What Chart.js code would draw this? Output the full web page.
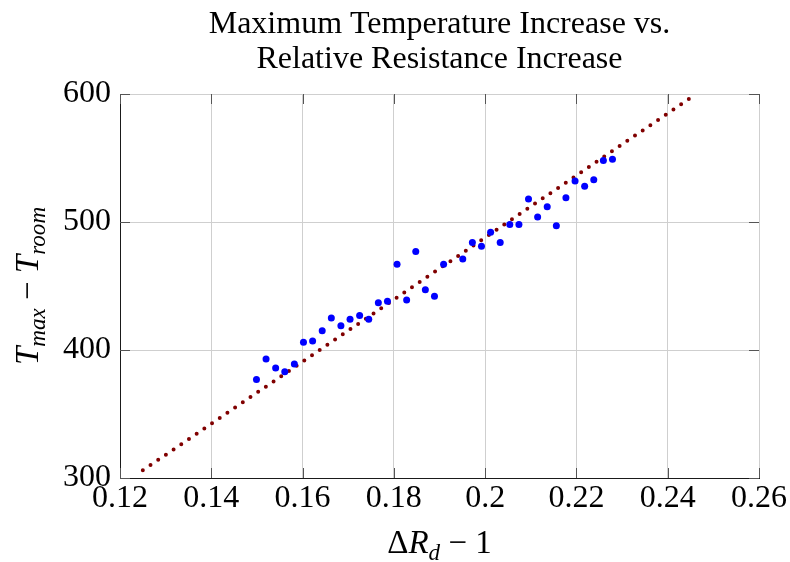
<!DOCTYPE html>
<html>
<head>
<meta charset="utf-8">
<script src="https://cdn.jsdelivr.net/npm/chart.js@4.4.1/dist/chart.umd.min.js"></script>
<style>
  html, body { margin: 0; padding: 0; background: #ffffff; }
  #wrap { width: 790px; height: 562px; }
</style>
</head>
<body>
<div id="wrap"><canvas id="c" width="790" height="562"></canvas></div>
<script>
// Measured samples: relative resistance increase (ΔR_d − 1) vs. temperature rise
const resistanceRise = [
  0.1499, 0.1520, 0.1541, 0.1561, 0.1582, 0.1602, 0.1622, 0.1643, 0.1663, 0.1684,
  0.1704, 0.1725, 0.1745, 0.1766, 0.1786, 0.1807, 0.1828, 0.1848, 0.1869, 0.1889,
  0.1909, 0.1951, 0.1972, 0.1992, 0.2012, 0.2033, 0.2054, 0.2074, 0.2095, 0.2115,
  0.2136, 0.2156, 0.2177, 0.2197, 0.2218, 0.2238, 0.2259, 0.2279
];
const temperatureRise = [
  377, 393, 386, 383, 389, 406, 407, 415, 425, 419,
  424, 427, 424, 437, 438, 467, 439, 477, 447, 442,
  467, 471, 484, 481, 492, 484, 498, 498, 518, 504,
  512, 497, 519, 532, 528, 533, 548, 549
];

// Linear fit, given by its two end points
const fitX = [0.125, 0.245];
const fitY = [306, 597];

// Axis ticks
const xTickValues = [0.12, 0.14, 0.16, 0.18, 0.20, 0.22, 0.24, 0.26];
const xTickLabels = ['0.12', '0.14', '0.16', '0.18', '0.2', '0.22', '0.24', '0.26'];
const yTickValues = [300, 400, 500, 600];
const yTickLabels = ['300', '400', '500', '600'];

const titleLines = ['Maximum Temperature Increase vs.', 'Relative Resistance Increase'];

const SERIF = '"Liberation Serif", "DejaVu Serif", serif';
const TICK_FONT = 32;
const TITLE_FONT = 32;
const LABEL_FONT = 33;

const points = resistanceRise.map((x, i) => ({ x: x, y: temperatureRise[i] }));
const fitLine = fitX.map((x, i) => ({ x: x, y: fitY[i] }));

// Draws a run of text pieces (normal / subscript, upright / italic) from a start x
function drawRich(ctx, parts, x, y, size) {
  let cx = x;
  for (const p of parts) {
    const s = p.sub ? size * 0.7 : size;
    ctx.font = (p.italic ? 'italic ' : '') + s + 'px ' + SERIF;
    const dy = p.sub ? size * 0.2 : 0;
    ctx.fillText(p.t, cx, y + dy);
    cx += ctx.measureText(p.t).width;
  }
  return cx - x;
}
function measureRich(ctx, parts, size) {
  let w = 0;
  for (const p of parts) {
    const s = p.sub ? size * 0.7 : size;
    ctx.font = (p.italic ? 'italic ' : '') + s + 'px ' + SERIF;
    w += ctx.measureText(p.t).width;
  }
  return w;
}

const yTitleParts = [
  { t: 'T', italic: true }, { t: 'max', italic: true, sub: true },
  { t: ' \u2212 ' }, { t: 'T', italic: true }, { t: 'room', italic: true, sub: true }
];
const xTitleParts = [
  { t: '\u0394' }, { t: 'R', italic: true }, { t: 'd', italic: true, sub: true },
  { t: ' \u2212 1' }
];

const decorations = {
  id: 'decorations',
  beforeDatasetsDraw(chart) {
    // short inward tick marks on all four sides of the frame
    const { ctx, chartArea: a, scales } = chart;
    ctx.save();
    ctx.strokeStyle = '#555555';
    ctx.lineWidth = 1;
    const len = 10;
    ctx.beginPath();
    for (const v of xTickValues) {
      const px = Math.round(scales.x.getPixelForValue(v)) + 0.5;
      ctx.moveTo(px, a.bottom); ctx.lineTo(px, a.bottom - len);
      ctx.moveTo(px, a.top); ctx.lineTo(px, a.top + len);
    }
    for (const v of yTickValues) {
      const py = Math.round(scales.y.getPixelForValue(v)) + 0.5;
      ctx.moveTo(a.left, py); ctx.lineTo(a.left + len, py);
      ctx.moveTo(a.right, py); ctx.lineTo(a.right - len, py);
    }
    ctx.stroke();
    ctx.restore();
  },
  afterDraw(chart) {
    const { ctx, chartArea: a } = chart;
    ctx.save();
    ctx.fillStyle = '#000000';
    ctx.textBaseline = 'alphabetic';
    // title, two centred lines above the plot
    ctx.textAlign = 'center';
    ctx.font = TITLE_FONT + 'px ' + SERIF;
    const cx = (a.left + a.right) / 2;
    ctx.fillText(titleLines[0], cx, 33);
    ctx.fillText(titleLines[1], cx, 68);
    ctx.textAlign = 'left';
    // x axis title
    const wx = measureRich(ctx, xTitleParts, LABEL_FONT);
    drawRich(ctx, xTitleParts, cx - wx / 2, 553, LABEL_FONT);
    // y axis title, rotated
    const wy = measureRich(ctx, yTitleParts, LABEL_FONT);
    ctx.translate(38, (a.top + a.bottom) / 2);
    ctx.rotate(-Math.PI / 2);
    drawRich(ctx, yTitleParts, -wy / 2, 0, LABEL_FONT);
    ctx.restore();
  }
};

new Chart(document.getElementById('c'), {
  data: {
    datasets: [
      {
        type: 'line',
        data: fitLine,
        borderColor: '#800000',
        borderWidth: 4,
        borderDash: [0, 9.3],
        borderCapStyle: 'round',
        pointRadius: 0,
        fill: false,
        tension: 0,
        order: 2
      },
      {
        type: 'scatter',
        data: points,
        backgroundColor: '#0000ff',
        borderWidth: 0,
        pointRadius: 3.5,
        pointHoverRadius: 3.5,
        order: 1
      }
    ]
  },
  options: {
    responsive: false,
    animation: false,
    events: [],
    layout: { padding: { top: 94, right: 31, left: 0, bottom: 0 } },
    plugins: {
      legend: { display: false },
      tooltip: { enabled: false },
      title: { display: false }
    },
    scales: {
      x: {
        type: 'linear',
        min: 0.12,
        max: 0.26,
        afterBuildTicks(scale) { scale.ticks = xTickValues.map(v => ({ value: v })); },
        afterFit(scale) { scale.height = 84; },
        ticks: {
          color: '#000000',
          font: { family: SERIF, size: TICK_FONT },
          padding: 1,
          maxRotation: 0,
          autoSkip: false,
          callback: (v, i) => xTickLabels[i]
        },
        grid: { color: '#cfcfcf', lineWidth: 1, drawTicks: false },
        border: { color: '#1a1a1a', width: 1 }
      },
      y: {
        type: 'linear',
        min: 300,
        max: 600,
        afterBuildTicks(scale) { scale.ticks = yTickValues.map(v => ({ value: v })); },
        afterFit(scale) { scale.width = 120; },
        ticks: {
          color: '#000000',
          font: { family: SERIF, size: TICK_FONT },
          padding: 9,
          autoSkip: false,
          callback: (v, i) => yTickLabels[i]
        },
        grid: { color: '#cfcfcf', lineWidth: 1, drawTicks: false },
        border: { color: '#1a1a1a', width: 1 }
      }
    }
  },
  plugins: [decorations]
});
</script>
</body>
</html>
